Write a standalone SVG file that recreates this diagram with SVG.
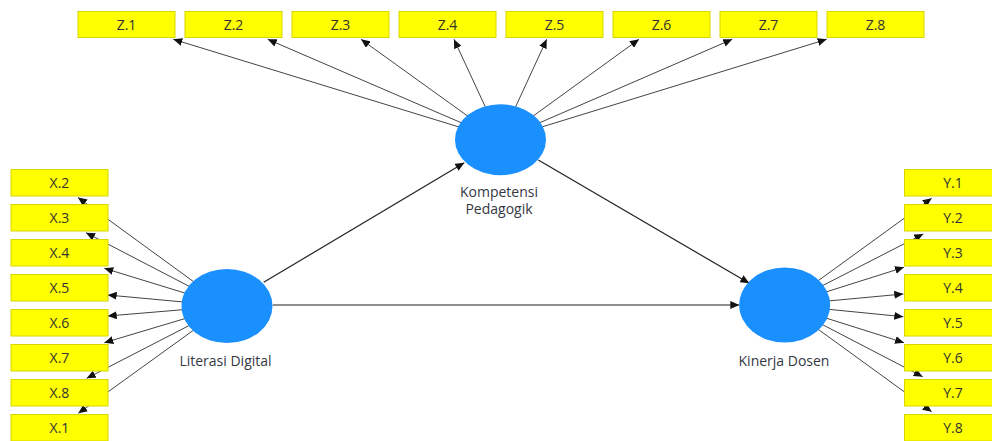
<svg xmlns="http://www.w3.org/2000/svg" width="992" height="441" viewBox="0 0 992 441">
<style>
.box{fill:#ffff00;stroke:#d6d600;stroke-width:1}
.bt{font-family:"Open Sans","Noto Sans",sans-serif;font-size:14px;fill:#333;text-anchor:middle}
.lv{fill:#1a90ff}
.lt{font-family:"Open Sans","Noto Sans",sans-serif;font-size:14px;fill:#333844;text-anchor:middle}
.c{stroke:#444;stroke-width:1;fill:none;marker-end:url(#ah)}
.s{stroke:#222;stroke-width:1.2;fill:none;marker-end:url(#ah)}
</style>
<defs>
<marker id="ah" markerUnits="userSpaceOnUse" markerWidth="10" markerHeight="8" refX="9" refY="4" orient="auto">
<path d="M0,0 L9,4 L0,8 z" fill="#111"/>
</marker>
</defs>
<rect width="992" height="441" fill="#fff"/>
<g id="connectors">
<line class="c" x1="500.5" y1="139.7" x2="173.3" y2="39.3"/>
<line class="c" x1="500.5" y1="139.7" x2="267.7" y2="39.3"/>
<line class="c" x1="500.5" y1="139.7" x2="361" y2="39.3"/>
<line class="c" x1="500.5" y1="139.7" x2="454" y2="39.3"/>
<line class="c" x1="500.5" y1="139.7" x2="546.7" y2="39.3"/>
<line class="c" x1="500.5" y1="139.7" x2="639" y2="39.3"/>
<line class="c" x1="500.5" y1="139.7" x2="732.3" y2="39.3"/>
<line class="c" x1="500.5" y1="139.7" x2="826.7" y2="39.3"/>
<line class="c" x1="227" y1="306" x2="78" y2="197.5"/>
<line class="c" x1="227" y1="306" x2="86" y2="232.7"/>
<line class="c" x1="227" y1="306" x2="104.3" y2="268.3"/>
<line class="c" x1="227" y1="306" x2="107.7" y2="295"/>
<line class="c" x1="227" y1="306" x2="107.7" y2="316"/>
<line class="c" x1="227" y1="306" x2="104.3" y2="342.7"/>
<line class="c" x1="227" y1="306" x2="86.7" y2="378.3"/>
<line class="c" x1="227" y1="306" x2="78.3" y2="413.3"/>
<line class="c" x1="784.7" y1="305" x2="931.7" y2="198.3"/>
<line class="c" x1="784.7" y1="305" x2="923.3" y2="234"/>
<line class="c" x1="784.7" y1="305" x2="904" y2="267.3"/>
<line class="c" x1="784.7" y1="305" x2="903.3" y2="294"/>
<line class="c" x1="784.7" y1="305" x2="903.3" y2="316.7"/>
<line class="c" x1="784.7" y1="305" x2="904" y2="342.7"/>
<line class="c" x1="784.7" y1="305" x2="922.7" y2="376.7"/>
<line class="c" x1="784.7" y1="305" x2="931.7" y2="411.7"/>
<line class="s" x1="263.7" y1="282.3" x2="464.3" y2="162.7"/>
<line class="s" x1="272.7" y1="305" x2="739.3" y2="305"/>
<line class="s" x1="538.3" y1="160" x2="749.3" y2="283.3"/>
</g>
<g id="Z1"><rect class="box" x="78" y="11.5" width="97" height="26"/><text class="bt" x="126.5" y="29.5">Z.1</text></g>
<g id="Z2"><rect class="box" x="185" y="11.5" width="97" height="26"/><text class="bt" x="233.5" y="29.5">Z.2</text></g>
<g id="Z3"><rect class="box" x="292" y="11.5" width="97" height="26"/><text class="bt" x="340.5" y="29.5">Z.3</text></g>
<g id="Z4"><rect class="box" x="399" y="11.5" width="97" height="26"/><text class="bt" x="447.5" y="29.5">Z.4</text></g>
<g id="Z5"><rect class="box" x="506" y="11.5" width="97" height="26"/><text class="bt" x="554.5" y="29.5">Z.5</text></g>
<g id="Z6"><rect class="box" x="613" y="11.5" width="97" height="26"/><text class="bt" x="661.5" y="29.5">Z.6</text></g>
<g id="Z7"><rect class="box" x="720" y="11.5" width="97" height="26"/><text class="bt" x="768.5" y="29.5">Z.7</text></g>
<g id="Z8"><rect class="box" x="827" y="11.5" width="97" height="26"/><text class="bt" x="875.5" y="29.5">Z.8</text></g>
<g id="X2"><rect class="box" x="11" y="169.5" width="97" height="26.5"/><text class="bt" x="59.5" y="188">X.2</text></g>
<g id="X3"><rect class="box" x="11" y="204.5" width="97" height="26.5"/><text class="bt" x="59.5" y="223">X.3</text></g>
<g id="X4"><rect class="box" x="11" y="239.5" width="97" height="26.5"/><text class="bt" x="59.5" y="258">X.4</text></g>
<g id="X5"><rect class="box" x="11" y="274.5" width="97" height="26.5"/><text class="bt" x="59.5" y="293">X.5</text></g>
<g id="X6"><rect class="box" x="11" y="309.5" width="97" height="26.5"/><text class="bt" x="59.5" y="328">X.6</text></g>
<g id="X7"><rect class="box" x="11" y="344.5" width="97" height="26.5"/><text class="bt" x="59.5" y="363">X.7</text></g>
<g id="X8"><rect class="box" x="11" y="379.5" width="97" height="26.5"/><text class="bt" x="59.5" y="398">X.8</text></g>
<g id="X1"><rect class="box" x="11" y="414.5" width="97" height="26.5"/><text class="bt" x="59.5" y="433">X.1</text></g>
<g id="Y1"><rect class="box" x="904.5" y="169.5" width="97" height="26.5"/><text class="bt" x="953" y="188">Y.1</text></g>
<g id="Y2"><rect class="box" x="904.5" y="204.5" width="97" height="26.5"/><text class="bt" x="953" y="223">Y.2</text></g>
<g id="Y3"><rect class="box" x="904.5" y="239.5" width="97" height="26.5"/><text class="bt" x="953" y="258">Y.3</text></g>
<g id="Y4"><rect class="box" x="904.5" y="274.5" width="97" height="26.5"/><text class="bt" x="953" y="293">Y.4</text></g>
<g id="Y5"><rect class="box" x="904.5" y="309.5" width="97" height="26.5"/><text class="bt" x="953" y="328">Y.5</text></g>
<g id="Y6"><rect class="box" x="904.5" y="344.5" width="97" height="26.5"/><text class="bt" x="953" y="363">Y.6</text></g>
<g id="Y7"><rect class="box" x="904.5" y="379.5" width="97" height="26.5"/><text class="bt" x="953" y="398">Y.7</text></g>
<g id="Y8"><rect class="box" x="904.5" y="414.5" width="97" height="26.5"/><text class="bt" x="953" y="433">Y.8</text></g>
<g id="KompetensiPedagogik"><ellipse class="lv" cx="500.5" cy="139.7" rx="45.5" ry="35.5"/><text class="lt" x="499" y="196.5">Kompetensi</text><text class="lt" x="499" y="214">Pedagogik</text></g>
<g id="LiterasiDigital"><ellipse class="lv" cx="227" cy="306" rx="45.5" ry="37"/><text class="lt" x="225.5" y="365.5">Literasi Digital</text></g>
<g id="KinerjaDosen"><ellipse class="lv" cx="784.7" cy="305" rx="45.5" ry="37.5"/><text class="lt" x="784" y="365.5">Kinerja Dosen</text></g>
</svg>
